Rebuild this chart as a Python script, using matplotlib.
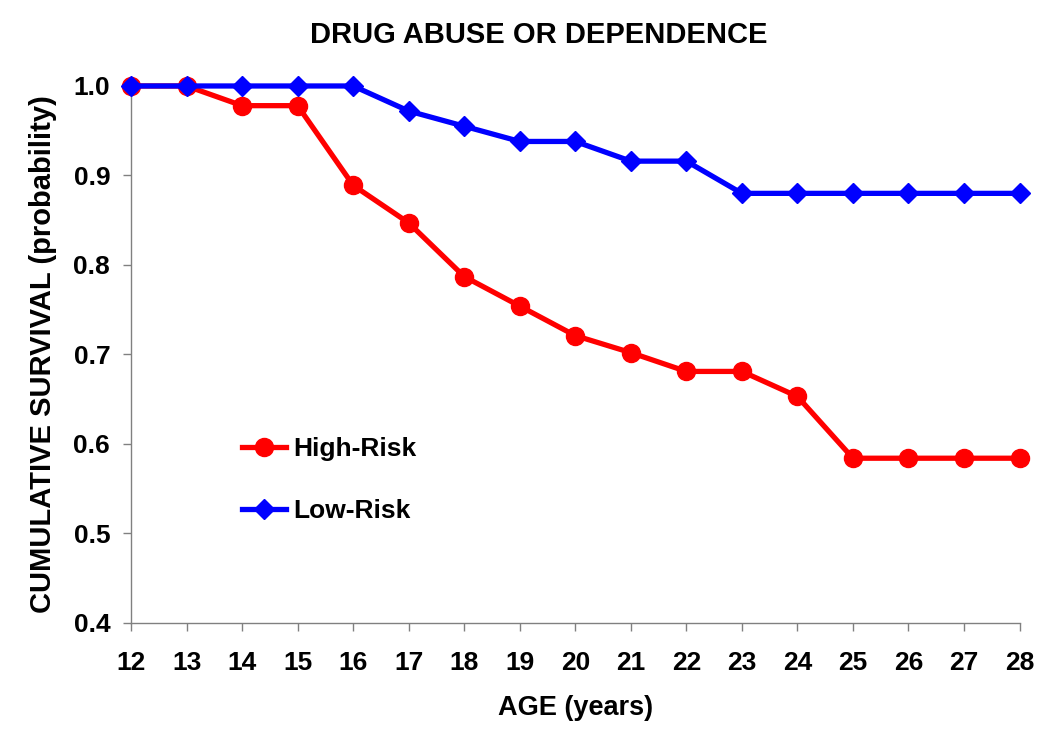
import matplotlib
matplotlib.use('Agg')
import matplotlib.pyplot as plt

plt.rcParams['font.family'] = ['Liberation Sans', 'DejaVu Sans']
plt.rcParams['font.weight'] = 'bold'

# Data
ages = [12, 13, 14, 15, 16, 17, 18, 19, 20, 21, 22, 23, 24, 25, 26, 27, 28]
high_risk = [1.0, 1.0, 0.978, 0.978, 0.889, 0.847, 0.787, 0.754, 0.721,
             0.702, 0.681, 0.681, 0.653, 0.584, 0.584, 0.584, 0.584]
low_risk = [1.0, 1.0, 1.0, 1.0, 1.0, 0.972, 0.955, 0.938, 0.938,
            0.916, 0.916, 0.880, 0.880, 0.880, 0.880, 0.880, 0.880]
y_ticks = [0.4, 0.5, 0.6, 0.7, 0.8, 0.9, 1.0]

fig = plt.figure(figsize=(10.5, 7.38), dpi=100)
ax = fig.add_axes([0.1248, 0.156, 0.8462, 0.7275])

ax.plot(ages, low_risk, color='#0000ff', lw=3.8, marker='D', markersize=10.5,
        label='Low-Risk', clip_on=False, zorder=3)
ax.plot(ages, high_risk, color='#ff0000', lw=3.8, marker='o', markersize=13,
        label='High-Risk', clip_on=False, zorder=2)

ax.set_xlim(12, 28)
ax.set_ylim(0.4, 1.0)
ax.set_xticks(ages)
ax.set_yticks(y_ticks)
ax.set_yticklabels([f'{v:.1f}' for v in y_ticks])

for s in ['top', 'right']:
    ax.spines[s].set_visible(False)
for s in ['left', 'bottom']:
    ax.spines[s].set_color('#808080')
    ax.spines[s].set_linewidth(1.0)
ax.tick_params(axis='both', colors='#808080', length=6, width=1.0,
               labelsize=19, labelcolor='black', direction='out')
ax.tick_params(axis='x', pad=14)
ax.tick_params(axis='y', pad=9)

ax.set_xlabel('AGE (years)', fontsize=19.5, fontweight='bold', labelpad=15)
ax.set_ylabel('CUMULATIVE SURVIVAL (probability)', fontsize=21,
              fontweight='bold', labelpad=12)
fig.suptitle('DRUG ABUSE OR DEPENDENCE', fontsize=21, fontweight='bold',
             x=0.513, y=0.972)

handles, labels = ax.get_legend_handles_labels()
leg = ax.legend(handles[::-1], labels[::-1], loc='upper left',
                bbox_to_anchor=(0.23, 0.408), bbox_transform=fig.transFigure,
                frameon=False, fontsize=19, handlelength=1.7, borderpad=0,
                borderaxespad=0, handletextpad=0.25, labelspacing=1.45)
for t in leg.get_texts():
    t.set_fontweight('bold')

fig.savefig('out.png', dpi=100)
